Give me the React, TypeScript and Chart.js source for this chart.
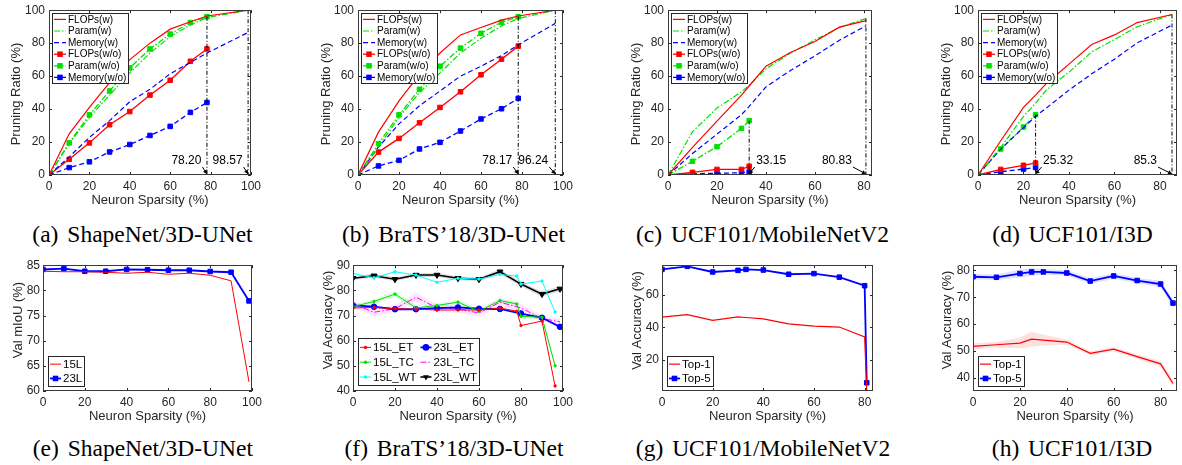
import React, { useEffect, useRef } from "react";
import { Chart, registerables } from "chart.js";

Chart.register(...registerables);

const FONT = '"Liberation Sans", Arial, Helvetica, sans-serif';
Chart.defaults.font.family = FONT;

const RED = "#ff0000";
const GREEN = "#00e000";
const BLUE = "#0000ff";
const CYAN = "#00ffff";
const MAGENTA = "#ff00ff";
const BLACK = "#000000";
const AXIS = "#262626";
const DASH = [5, 3];
const DASHDOT = [6, 2, 1.5, 2];

// ---------- tick values ----------
const X_TICKS_100 = [0, 20, 40, 60, 80, 100];
const X_TICKS_80 = [0, 20, 40, 60, 80];
const Y_TICKS_PR = [0, 20, 40, 60, 80, 100];
const Y_TICKS_E = [60, 65, 70, 75, 80, 85];
const Y_TICKS_F = [40, 50, 60, 70, 80, 90];
const Y_TICKS_G = [20, 40, 60];
const Y_TICKS_H = [40, 50, 60, 70, 80];

// ---------- (a) ShapeNet/3D-UNet : pruning ratio ----------
const aXw = [0, 10, 20, 30, 40, 50, 60, 70, 78.2, 98.57];
const aFlopsW = [0, 25, 41, 56, 70, 80, 88.5, 93, 96.5, 100];
const aParamW = [0, 19, 35, 48.5, 62, 74, 84, 91, 95.5, 100];
const aMemW = [0, 11, 22.8, 33, 44.5, 52, 61.4, 68.3, 74, 86.5];
const aXwo = [0, 10, 20, 30, 40, 50, 60, 70, 78.2];
const aFlopsWo = [0, 9.5, 19.5, 30.5, 38.5, 48.5, 57.5, 69, 76.5];
const aParamWo = [0, 19.5, 36.5, 51, 65, 76.5, 85.5, 92.5, 96];
const aMemWo = [0, 4.5, 8, 14, 18.5, 24, 29.5, 38, 44];
const aMarks = [78.2, 98.57];
const aMarkLabels = ["78.20", "98.57"];

// ---------- (b) BraTS'18/3D-UNet : pruning ratio ----------
const bXw = [0, 10, 20, 30, 40, 50, 60, 70, 78.17, 96.24];
const bFlopsW = [0, 26, 45, 61, 74, 85, 89.5, 94, 96.5, 100];
const bParamW = [0, 17, 35, 50, 62, 74, 83, 90.5, 95, 100];
const bMemW = [0, 17, 31, 42, 51, 60, 66, 72.5, 79, 92];
const bXwo = [0, 10, 20, 30, 40, 50, 60, 70, 78.17];
const bFlopsWo = [0, 13.9, 22.2, 31.7, 41, 50.5, 60.8, 70.3, 78.2];
const bParamWo = [0, 19, 36.5, 52, 66, 77, 86, 92.7, 96];
const bMemWo = [0, 5.5, 8.9, 15.8, 19.8, 26.7, 34, 40.2, 46.5];
const bMarks = [78.17, 96.24];
const bMarkLabels = ["78.17", "96.24"];

// ---------- (c) UCF101/MobileNetV2 : pruning ratio ----------
const cXw = [0, 10, 20, 30, 33.15, 40, 50, 60, 70, 80.83];
const cFlopsW = [0, 16.8, 32.7, 48.5, 54, 66, 74.3, 81, 89.7, 93.7];
const cParamW = [0, 26.3, 40.6, 50.5, 54.5, 64.4, 74, 82, 89.5, 95];
const cMemW = [0, 13, 24.8, 36.6, 41.6, 53.5, 63.4, 72.3, 81.8, 90.5];
const cXwo = [0, 10, 20, 30, 33.15];
const cFlopsWo = [0, 1.6, 3.4, 3.4, 5.3];
const cParamWo = [0, 8.3, 17.2, 28.3, 33];
const cMemWo = [0, 0.8, 1, 1.4, 1.8];
const cMarks = [33.15, 80.83];
const cMarkLabels = ["33.15", "80.83"];

// ---------- (d) UCF101/I3D : pruning ratio ----------
const dXw = [0, 10, 20, 25.32, 30, 40, 50, 60, 70, 85.3];
const dFlopsW = [0, 20.8, 41, 48.5, 55.4, 67.3, 79.2, 85, 92.5, 97.4];
const dParamW = [0, 16.8, 35.6, 43.6, 51.5, 62.4, 74.7, 82.2, 90, 97.4];
const dMemW = [0, 15.8, 28.7, 35.6, 40.6, 51.5, 61.4, 70.3, 80.2, 91];
const dXwo = [0, 10, 20, 25.32];
const dFlopsWo = [0, 3.4, 5.9, 7.3];
const dParamWo = [0, 15.8, 29.1, 36.6];
const dMemWo = [0, 2, 3.6, 4.6];
const dMarks = [25.32, 85.3];
const dMarkLabels = ["25.32", "85.3"];

// ---------- (e) ShapeNet/3D-UNet : val mIoU ----------
const eX = [0, 10, 20, 30, 40, 50, 60, 70, 80, 90, 98.57];
const e15L = [83.8, 83.7, 83.7, 83.6, 83.4, 83.6, 83.2, 83.4, 83.0, 81.9, 61.8];
const e23L = [84.15, 84.3, 83.8, 83.8, 84.15, 84.1, 84.0, 84.0, 83.75, 83.6, 77.9];

// ---------- (f) BraTS'18/3D-UNet : val accuracy ----------
const fX15 = [0, 10, 20, 30, 40, 50, 60, 70, 78, 80, 90, 96.24];
const f15ET = [73, 73.2, 72.7, 72.5, 72.2, 72.2, 72.2, 73, 71.7, 66, 67.8, 42];
const f15TC = [73.5, 75.6, 78.5, 73, 74, 75.3, 71.7, 75.9, 74.6, 69.7, 69.3, 50];
const f15WT = [86.7, 85, 87.4, 86.1, 83.2, 84.8, 84.5, 86.3, 85.7, 82.5, 83.7, 71.4];
const fX23 = [0, 10, 20, 30, 40, 50, 60, 70, 80, 90, 98.57];
const f23ET = [74, 73.5, 72.5, 72.5, 72.9, 73.2, 72.7, 72.6, 70.8, 69.1, 65.5];
const f23TC = [74.6, 71.3, 72.7, 77.3, 73, 72.6, 71, 75.3, 73, 68.8, 67.5];
const f23WT = [84.8, 85.8, 84.4, 86.1, 86.1, 84.8, 84.4, 87.4, 82.5, 78.5, 80.6];
const f15TCSpread = [0.8, 1, 1.2, 1, 0.8, 1, 1, 1, 1, 1, 1, 1];
const f23TCSpread = [1.5, 1.5, 1.5, 1.8, 1.5, 1.5, 1.5, 1.5, 1.5, 1.2, 1];
const f23WTSpread = [0.8, 0.8, 0.8, 0.8, 0.8, 0.8, 0.8, 1, 1, 1, 1];

// ---------- (g) UCF101/MobileNetV2 : val accuracy ----------
const gX = [0, 10, 20, 30, 33.15, 40, 50, 60, 70, 80, 80.83];
const gTop1 = [46.2, 47.8, 44.2, 46.4, 46.0, 45.2, 42.1, 40.7, 40.1, 34, 0.3];
const gTop5 = [75.8, 77.7, 74.2, 75.2, 75.8, 75.4, 72.8, 73.2, 71, 65.7, 5.6];

// ---------- (h) UCF101/I3D : val accuracy ----------
const hX = [0, 10, 20, 25, 30, 40, 50, 60, 70, 80, 85.3];
const hTop1 = [51.7, 52.3, 52.9, 54.4, 54, 53.3, 49.1, 50.7, 47.9, 45.2, 37.9];
const hTop5 = [77.6, 77.4, 78.8, 79.4, 79.4, 79, 76, 77.9, 76.2, 74.9, 67.8];
const hTop1Spread = [1.2, 1, 2, 2.8, 2, 1, 0.7, 0.8, 0.8, 1, 1.2];
const hTop5Spread = [1, 1, 1.5, 1.5, 1, 1, 1, 1, 1, 1.2, 1.5];

// ---------- helpers ----------
const pts = (xs: number[], ys: number[]) => xs.map((x, i) => ({ x, y: ys[i] }));

function line(label: string, xs: number[], ys: number[], color: string, o: any = {}) {
  return {
    label,
    data: pts(xs, ys),
    borderColor: color,
    backgroundColor: color,
    borderWidth: o.width ?? 1.2,
    borderDash: o.dash ?? [],
    pointRadius: o.marker ? o.r ?? 3.2 : 0,
    pointStyle: o.marker ?? "circle",
    pointRotation: o.rot ?? 0,
    pointBackgroundColor: color,
    pointBorderColor: color,
    pointBorderWidth: 1,
    fill: false,
    tension: 0,
  };
}

function band(xs: number[], ys: number[], spread: number[], color: string) {
  const lo = ys.map((v, i) => v - spread[i]);
  const hi = ys.map((v, i) => v + spread[i]);
  return [
    { label: "", data: pts(xs, lo), borderColor: "transparent", borderWidth: 1, pointRadius: 0, fill: false, order: 10 },
    { label: "", data: pts(xs, hi), borderColor: "transparent", borderWidth: 1, pointRadius: 0, fill: "-1", backgroundColor: color, order: 10 },
  ];
}

function pruneSets(xw: number[], fw: number[], pw: number[], mw: number[], xo: number[], fo: number[], po: number[], mo: number[]) {
  return [
    line("FLOPs(w)", xw, fw, RED),
    line("Param(w)", xw, pw, GREEN, { dash: DASHDOT }),
    line("Memory(w)", xw, mw, BLUE, { dash: DASH }),
    line("FLOPs(w/o)", xo, fo, RED, { marker: "rect", width: 1.3 }),
    line("Param(w/o)", xo, po, GREEN, { marker: "rect", dash: DASHDOT, width: 1.3 }),
    line("Memory(w/o)", xo, mo, BLUE, { marker: "rect", dash: DASH, width: 1.3 }),
  ];
}

const TOP_LEGEND = { cols: [[0, 1, 2, 3, 4, 5]], size: 10, rowH: 11.6, vpad: 0.6, sample: 12, anchor: "top", dx: 3, dy: 2.3, colGap: 0 };
const BOT_LEGEND = { cols: [[0, 1]], size: 11.5, rowH: 14.3, vpad: 1, sample: 11, anchor: "bottom", dx: 5, dy: 4.5, colGap: 0 };

interface Mark { x: number; top: number; text: string; dx: number }

interface PanelCfg {
  key: string;
  plot: { l: number; t: number; r: number; b: number };
  xMax: number;
  yMin: number;
  yMax: number;
  xTicks: number[];
  yTicks: number[];
  yTitle: string;
  yTitleX: number;
  yTitleY: number;
  xTitleY: number;
  tickPad: number;
  datasets: any[];
  legend: any;
  marks?: Mark[];
}

const mk = (xs: number[], tops: number[], labels: string[], dxs: number[]): Mark[] =>
  xs.map((x, i) => ({ x, top: tops[i], text: labels[i], dx: dxs[i] }));

const last = (a: number[]) => a[a.length - 1];

const PANELS: PanelCfg[] = [
  {
    key: "a", plot: { l: 49, t: 7, r: 251, b: 175 }, xMax: 100, yMin: 0, yMax: 100,
    xTicks: X_TICKS_100, yTicks: Y_TICKS_PR, yTitle: "Pruning Ratio (%)", yTitleX: 16.7, yTitleY: 94, xTitleY: 200.5, tickPad: 4,
    datasets: pruneSets(aXw, aFlopsW, aParamW, aMemW, aXwo, aFlopsWo, aParamWo, aMemWo),
    legend: TOP_LEGEND,
    marks: mk(aMarks, [last(aParamWo), last(aFlopsW)], aMarkLabels, [-4.5, -4.5]),
  },
  {
    key: "b", plot: { l: 358, t: 7, r: 563, b: 175 }, xMax: 100, yMin: 0, yMax: 100,
    xTicks: X_TICKS_100, yTicks: Y_TICKS_PR, yTitle: "Pruning Ratio (%)", yTitleX: 326.7, yTitleY: 94, xTitleY: 200.5, tickPad: 4,
    datasets: pruneSets(bXw, bFlopsW, bParamW, bMemW, bXwo, bFlopsWo, bParamWo, bMemWo),
    legend: TOP_LEGEND,
    marks: mk(bMarks, [last(bParamWo), last(bFlopsW)], bMarkLabels, [-5, -6]),
  },
  {
    key: "c", plot: { l: 668, t: 7, r: 872, b: 175 }, xMax: 83.3, yMin: 0, yMax: 100,
    xTicks: X_TICKS_80, yTicks: Y_TICKS_PR, yTitle: "Pruning Ratio (%)", yTitleX: 636.7, yTitleY: 94, xTitleY: 200.5, tickPad: 4,
    datasets: pruneSets(cXw, cFlopsW, cParamW, cMemW, cXwo, cFlopsWo, cParamWo, cMemWo),
    legend: TOP_LEGEND,
    marks: mk(cMarks, [last(cParamWo), last(cParamW)], cMarkLabels, [5.5, -13]),
  },
  {
    key: "d", plot: { l: 978, t: 7, r: 1181, b: 175 }, xMax: 87.5, yMin: 0, yMax: 100,
    xTicks: X_TICKS_80, yTicks: Y_TICKS_PR, yTitle: "Pruning Ratio (%)", yTitleX: 946.7, yTitleY: 94, xTitleY: 200.5, tickPad: 4,
    datasets: pruneSets(dXw, dFlopsW, dParamW, dMemW, dXwo, dFlopsWo, dParamWo, dMemWo),
    legend: TOP_LEGEND,
    marks: mk(dMarks, [last(dParamWo), last(dFlopsW)], dMarkLabels, [6, -14]),
  },
  {
    key: "e", plot: { l: 43, t: 263, r: 252, b: 391 }, xMax: 100, yMin: 60, yMax: 85,
    xTicks: X_TICKS_100, yTicks: Y_TICKS_E, yTitle: "Val mIoU (%)", yTitleX: 18, yTitleY: 320, xTitleY: 416, tickPad: 3,
    datasets: [
      line("15L", eX, e15L, RED, { width: 1 }),
      line("23L", eX, e23L, BLUE, { marker: "rect", width: 1.8, r: 3.2 }),
    ],
    legend: BOT_LEGEND,
  },
  {
    key: "f", plot: { l: 353, t: 263, r: 563, b: 391 }, xMax: 100, yMin: 40, yMax: 90,
    xTicks: X_TICKS_100, yTicks: Y_TICKS_F, yTitle: "Val Accuracy (%)", yTitleX: 328, yTitleY: 320, xTitleY: 416, tickPad: 3,
    datasets: [
      line("15L_ET", fX15, f15ET, RED, { width: 1, marker: "circle", r: 1.2 }),
      line("15L_TC", fX15, f15TC, GREEN, { width: 1, marker: "circle", r: 1.2 }),
      line("15L_WT", fX15, f15WT, CYAN, { width: 1, marker: "circle", r: 1.2 }),
      line("23L_ET", fX23, f23ET, BLUE, { width: 1.8, marker: "circle", r: 2.8 }),
      line("23L_TC", fX23, f23TC, MAGENTA, { width: 1, dash: DASHDOT }),
      line("23L_WT", fX23, f23WT, BLACK, { width: 1.6, marker: "triangle", rot: 180, r: 3.4 }),
      ...band(fX15, f15TC, f15TCSpread, "rgba(0,230,0,0.12)"),
      ...band(fX23, f23TC, f23TCSpread, "rgba(255,0,255,0.10)"),
      ...band(fX23, f23WT, f23WTSpread, "rgba(0,0,0,0.12)"),
    ],
    legend: { ...BOT_LEGEND, cols: [[0, 1, 2], [3, 4, 5]], rowH: 14.8, vpad: 2, colGap: 4, dy: 5.3 },
  },
  {
    key: "g", plot: { l: 662, t: 263, r: 873, b: 391 }, xMax: 83.3, yMin: 0.5, yMax: 78.4,
    xTicks: X_TICKS_80, yTicks: Y_TICKS_G, yTitle: "Val Accuracy (%)", yTitleX: 637.5, yTitleY: 320.5, xTitleY: 416, tickPad: 3,
    datasets: [
      line("Top-1", gX, gTop1, RED, { width: 1.2 }),
      line("Top-5", gX, gTop5, BLUE, { marker: "rect", width: 1.8, r: 3.2 }),
    ],
    legend: BOT_LEGEND,
  },
  {
    key: "h", plot: { l: 973, t: 263, r: 1181, b: 391 }, xMax: 87, yMin: 35.1, yMax: 81.9,
    xTicks: X_TICKS_80, yTicks: Y_TICKS_H, yTitle: "Val Accuracy (%)", yTitleX: 947.5, yTitleY: 320, xTitleY: 416, tickPad: 3,
    datasets: [
      line("Top-1", hX, hTop1, RED, { width: 1.2 }),
      line("Top-5", hX, hTop5, BLUE, { marker: "rect", width: 1.8, r: 3.2 }),
      ...band(hX, hTop1, hTop1Spread, "rgba(255,0,0,0.12)"),
      ...band(hX, hTop5, hTop5Spread, "rgba(0,0,255,0.12)"),
    ],
    legend: BOT_LEGEND,
  },
];

const CAPTIONS = [
  { tag: "(a)", name: "ShapeNet/3D-UNet", cx: 142.5, base: 243 },
  { tag: "(b)", name: "BraTS\u201918/3D-UNet", cx: 453.5, base: 243 },
  { tag: "(c)", name: "UCF101/MobileNetV2", cx: 762.5, base: 243 },
  { tag: "(d)", name: "UCF101/I3D", cx: 1072.5, base: 243 },
  { tag: "(e)", name: "ShapeNet/3D-UNet", cx: 142.8, base: 457 },
  { tag: "(f)", name: "BraTS\u201918/3D-UNet", cx: 454, base: 457 },
  { tag: "(g)", name: "UCF101/MobileNetV2", cx: 763, base: 457 },
  { tag: "(h)", name: "UCF101/I3D", cx: 1072, base: 457 },
];

// ---------- drawing ----------
function drawMarker(ctx: CanvasRenderingContext2D, style: string, x: number, y: number, r: number, color: string) {
  ctx.fillStyle = color;
  ctx.beginPath();
  if (style === "rect") {
    const s = r * Math.SQRT1_2 + 0.5;
    ctx.rect(x - s, y - s, 2 * s, 2 * s);
  } else if (style === "triangle") {
    ctx.moveTo(x, y + r);
    ctx.lineTo(x - r * 0.866, y - r * 0.5);
    ctx.lineTo(x + r * 0.866, y - r * 0.5);
    ctx.closePath();
  } else {
    ctx.arc(x, y, r + 0.5, 0, Math.PI * 2);
  }
  ctx.fill();
}

function drawLegend(chart: any, lg: any) {
  const ctx: CanvasRenderingContext2D = chart.ctx;
  const a = chart.chartArea;
  const ds = chart.data.datasets;
  ctx.save();
  ctx.font = `${lg.size}px ${FONT}`;
  const cols: number[][] = lg.cols;
  const colW = cols.map((c) => Math.max(...c.map((i) => ctx.measureText(ds[i].label).width)));
  const S = lg.sample;
  const rows = Math.max(...cols.map((c) => c.length));
  const w = Math.round(2 + cols.reduce((s, _c, j) => s + S + 2 + colW[j], 0) + (cols.length - 1) * lg.colGap + 3);
  const h = Math.round(rows * lg.rowH + 2 * lg.vpad);
  const left = Math.round(a.left + lg.dx);
  const top = lg.anchor === "top" ? Math.round(a.top + lg.dy) : Math.round(a.bottom - lg.dy - h);
  ctx.fillStyle = "#ffffff";
  ctx.fillRect(left, top, w, h);
  ctx.strokeStyle = AXIS;
  ctx.lineWidth = 1;
  ctx.setLineDash([]);
  ctx.strokeRect(left + 0.5, top + 0.5, w - 1, h - 1);
  let x = left + 2;
  cols.forEach((c, j) => {
    c.forEach((i, r) => {
      const d = ds[i];
      const y = top + lg.vpad + lg.rowH * (r + 0.5);
      ctx.strokeStyle = d.borderColor;
      ctx.lineWidth = d.borderWidth;
      ctx.setLineDash(d.borderDash || []);
      ctx.beginPath();
      ctx.moveTo(x, y);
      ctx.lineTo(x + S, y);
      ctx.stroke();
      ctx.setLineDash([]);
      if (d.pointRadius > 0) drawMarker(ctx, d.pointStyle, x + S / 2, y, d.pointRadius, d.borderColor);
      ctx.fillStyle = "#000000";
      ctx.textAlign = "left";
      ctx.textBaseline = "middle";
      ctx.fillText(d.label, x + S + 2, y + 0.5);
    });
    x += S + 2 + colW[j] + lg.colGap;
  });
  ctx.restore();
}

function drawDecor(chart: any, cfg: PanelCfg, canvasLeft: number, canvasTop: number) {
  const ctx: CanvasRenderingContext2D = chart.ctx;
  const a = chart.chartArea;
  const xs = chart.scales.x;
  const ys = chart.scales.y;
  ctx.save();
  // vertical markers with arrows
  (cfg.marks || []).forEach((m) => {
    const px = xs.getPixelForValue(m.x);
    const pt = ys.getPixelForValue(m.top);
    const yb = a.bottom - 1;
    ctx.strokeStyle = "#000";
    ctx.fillStyle = "#000";
    ctx.lineWidth = 1;
    ctx.setLineDash([4, 2, 1, 2]);
    ctx.beginPath();
    ctx.moveTo(px, pt);
    ctx.lineTo(px, yb);
    ctx.stroke();
    ctx.setLineDash([]);
    const sx = px + m.dx;
    const sy = a.bottom - 8;
    ctx.beginPath();
    ctx.moveTo(sx, sy);
    ctx.lineTo(px, yb);
    ctx.stroke();
    const ang = Math.atan2(yb - sy, px - sx);
    const L = 4.5;
    const W = 0.5;
    ctx.beginPath();
    ctx.moveTo(px, yb);
    ctx.lineTo(px - L * Math.cos(ang - W), yb - L * Math.sin(ang - W));
    ctx.lineTo(px - L * Math.cos(ang + W), yb - L * Math.sin(ang + W));
    ctx.closePath();
    ctx.fill();
    ctx.font = `12px ${FONT}`;
    ctx.textBaseline = "middle";
    if (m.dx < 0) {
      ctx.textAlign = "right";
      ctx.fillText(m.text, sx - 1, a.bottom - 14);
    } else {
      ctx.textAlign = "left";
      ctx.fillText(m.text, sx + 1.5, a.bottom - 14);
    }
  });
  // inner tick marks
  ctx.strokeStyle = AXIS;
  ctx.lineWidth = 1;
  ctx.setLineDash([]);
  ctx.beginPath();
  xs.ticks.forEach((t: any) => {
    const px = Math.round(xs.getPixelForValue(t.value)) + 0.5;
    ctx.moveTo(px, a.bottom);
    ctx.lineTo(px, a.bottom - 3);
    ctx.moveTo(px, a.top);
    ctx.lineTo(px, a.top + 3);
  });
  ys.ticks.forEach((t: any) => {
    const py = Math.round(ys.getPixelForValue(t.value)) + 0.5;
    ctx.moveTo(a.left, py);
    ctx.lineTo(a.left + 3, py);
    ctx.moveTo(a.right, py);
    ctx.lineTo(a.right - 3, py);
  });
  ctx.stroke();
  // axes box
  ctx.strokeStyle = "#3a3a3a";
  ctx.strokeRect(Math.round(a.left) + 0.5, Math.round(a.top) + 0.5, Math.round(a.right - a.left) - 1, Math.round(a.bottom - a.top) - 1);
  // y-axis title (rotated)
  ctx.save();
  ctx.translate(cfg.yTitleX - canvasLeft, cfg.yTitleY - canvasTop);
  ctx.rotate(-Math.PI / 2);
  ctx.font = `13px ${FONT}`;
  ctx.fillStyle = AXIS;
  ctx.textAlign = "center";
  ctx.textBaseline = "middle";
  ctx.fillText(cfg.yTitle, 0, 0);
  ctx.restore();
  ctx.restore();
  drawLegend(chart, cfg.legend);
}

function PanelChart({ cfg }: { cfg: PanelCfg }) {
  const ref = useRef<HTMLCanvasElement>(null);
  const cl = Math.floor(cfg.yTitleX - 10);
  const ct = cfg.plot.t - 8;
  const cr = Math.min(cfg.plot.r + 14, 1182);
  const cb = Math.ceil(cfg.xTitleY + 10);
  const W = cr - cl;
  const H = cb - ct;

  useEffect(() => {
    const yw = cfg.plot.l - cl;
    const xh = cb - cfg.plot.b;
    const xTitlePad = cb - cfg.xTitleY - 7.8;
    const chart = new Chart(ref.current as HTMLCanvasElement, {
      type: "line",
      data: { datasets: cfg.datasets },
      options: {
        responsive: false,
        animation: false,
        devicePixelRatio: 1,
        layout: { padding: { top: cfg.plot.t - ct, right: cr - cfg.plot.r, left: 0, bottom: 0 } },
        plugins: { legend: { display: false }, tooltip: { enabled: false } },
        elements: { line: { tension: 0 } },
        scales: {
          x: {
            type: "linear",
            min: 0,
            max: cfg.xMax,
            grid: { display: false, drawTicks: false },
            border: { display: false },
            ticks: { font: { size: 12 }, color: AXIS, padding: 4, maxRotation: 0, autoSkip: false },
            afterBuildTicks: (s: any) => {
              s.ticks = cfg.xTicks.map((v) => ({ value: v }));
            },
            afterFit: (s: any) => {
              s.height = xh;
            },
            title: { display: true, text: "Neuron Sparsity (%)", font: { size: 13 }, color: AXIS, padding: { top: 0, bottom: xTitlePad } },
          },
          y: {
            type: "linear",
            min: cfg.yMin,
            max: cfg.yMax,
            grid: { display: false, drawTicks: false },
            border: { display: false },
            ticks: { font: { size: 12 }, color: AXIS, padding: cfg.tickPad, autoSkip: false },
            afterBuildTicks: (s: any) => {
              s.ticks = cfg.yTicks.map((v) => ({ value: v }));
            },
            afterFit: (s: any) => {
              s.width = yw;
            },
            title: { display: false, text: cfg.yTitle },
          },
        },
      } as any,
      plugins: [{ id: "decor", afterDraw: (c: any) => drawDecor(c, cfg, cl, ct) }],
    });
    return () => chart.destroy();
  }, []);

  return (
    <canvas
      ref={ref}
      width={W}
      height={H}
      style={{ position: "absolute", left: cl, top: ct, width: W, height: H }}
    />
  );
}

export default function App() {
  const CAP = 23.5;
  return (
    <div
      style={{
        position: "fixed",
        left: 0,
        top: 0,
        width: 1182,
        height: 465,
        background: "#ffffff",
        overflow: "hidden",
      }}
    >
      {PANELS.map((p) => (
        <PanelChart key={p.key} cfg={p} />
      ))}
      {CAPTIONS.map((c) => (
        <div
          key={c.tag}
          style={{
            position: "absolute",
            left: c.cx - 170,
            width: 340,
            top: c.base - 19.7,
            textAlign: "center",
            fontFamily: '"Liberation Serif", "Times New Roman", serif',
            fontSize: CAP,
            lineHeight: `${CAP}px`,
            color: "#000",
            whiteSpace: "nowrap",
          }}
        >
          <span style={{ marginRight: 3 }}>{c.tag}</span> {c.name}
        </div>
      ))}
    </div>
  );
}
